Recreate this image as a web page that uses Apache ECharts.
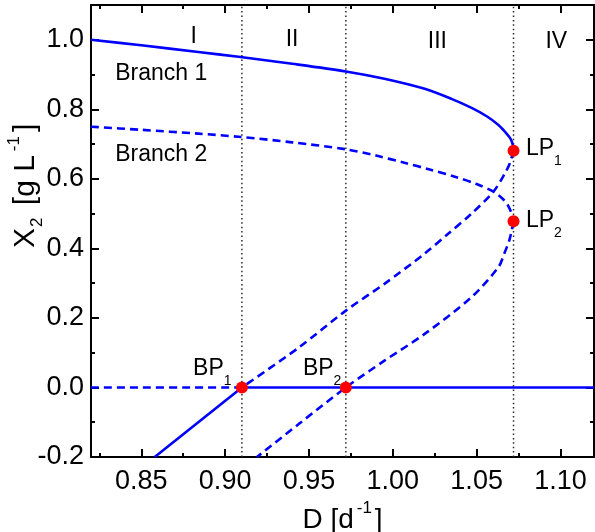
<!DOCTYPE html>
<html>
<head>
<meta charset="utf-8">
<script src="https://cdn.jsdelivr.net/npm/echarts@6/dist/echarts.min.js"></script>
<style>
  html, body { margin: 0; padding: 0; background: #fff; }
  #chart { width: 595px; height: 532px; }
</style>
</head>
<body>
<div id="chart"></div>
<script>
// Axis ranges and tick values
const dMin = 0.82, dMax = 1.12;
const dTicks = [0.85, 0.90, 0.95, 1.00, 1.05, 1.10];
const dMinorTicks = [0.825, 0.875, 0.925, 0.975, 1.025, 1.075];
const x2Min = -0.2, x2Max = 1.1;
const x2Ticks = [-0.2, 0.0, 0.2, 0.4, 0.6, 0.8, 1.0];
const x2MinorTicks = [-0.1, 0.1, 0.3, 0.5, 0.7, 0.9];

// Steady-state branches (D [1/d], X2 [g/L])
const branch1Stable = [
  [0.82, 1.000], [0.85, 0.984], [0.884, 0.965], [0.908, 0.951], [0.94, 0.931],
  [0.972, 0.909], [0.995, 0.888], [1.019, 0.859], [1.035, 0.830], [1.047, 0.804],
  [1.056, 0.780], [1.063, 0.755], [1.067, 0.735], [1.070, 0.717], [1.0715, 0.700],
  [1.072, 0.681]
];
const branch1Unstable = [
  [1.072, 0.681], [1.0698, 0.645], [1.0669, 0.616], [1.060, 0.563], [1.047, 0.500],
  [1.033, 0.442], [1.019, 0.385], [0.995, 0.298], [0.972, 0.221], [0.944, 0.115],
  [0.910, 0.000]
];
const branch1Negative = [[0.910, 0.000], [0.858, -0.200]];
const branch2Upper = [
  [0.82, 0.750], [0.85, 0.741], [0.884, 0.730], [0.908, 0.721], [0.94, 0.705],
  [0.972, 0.685], [0.99, 0.667], [1.007, 0.646], [1.022, 0.627], [1.037, 0.606],
  [1.050, 0.585], [1.060, 0.563], [1.065, 0.545], [1.068, 0.529], [1.0705, 0.505],
  [1.072, 0.478]
];
const branch2Lower = [
  [1.072, 0.478], [1.0708, 0.450], [1.0695, 0.4235], [1.0665, 0.385], [1.063, 0.346],
  [1.047, 0.260], [1.019, 0.154], [0.995, 0.077], [0.972, 0.000], [0.9437, -0.106],
  [0.919, -0.200]
];
const washoutUnstable = [[0.82, 0.0], [0.91, 0.0]];
const washoutStable = [[0.91, 0.0], [1.12, 0.0]];

// Operating regions and special points
const regionBounds = [0.91, 0.972, 1.072];
const regionNames = ['I', 'II', 'III', 'IV'];
const limitPoints = [[1.072, 0.681], [1.072, 0.478]];
const branchPoints = [[0.91, 0.0], [0.972, 0.0]];

const FONT = '"Liberation Sans", Arial, Helvetica, sans-serif';
const BLUE = '#0000ff';
const RED = '#ff0000';

const chart = echarts.init(document.getElementById('chart'), null, { renderer: 'canvas' });

function axis(extra) {
  return Object.assign({
    type: 'value',
    scale: true,
    splitLine: { show: false },
    axisLine: { show: true, onZero: false, lineStyle: { color: '#000', width: 2 } },
    axisLabel: { show: false },
    axisTick: { show: true, inside: true, length: 8, lineStyle: { color: '#000', width: 2 } }
  }, extra);
}
function minorAxis(extra, values) {
  return axis(Object.assign({
    axisLine: { show: false, onZero: false },
    axisTick: { show: true, inside: true, length: 4, customValues: values,
                lineStyle: { color: '#000', width: 2 } }
  }, extra));
}

const richText = {
  m: { fontFamily: FONT, fontSize: 23, color: '#000', lineHeight: 40, verticalAlign: 'middle' },
  s: { fontFamily: FONT, fontSize: 14, color: '#000', lineHeight: 12, verticalAlign: 'bottom' }
};

function curve(data, dashed) {
  return {
    type: 'line', data: data, showSymbol: false, smooth: 0.3, z: 3,
    silent: true, clip: true,
    lineStyle: { color: BLUE, width: 2.6, type: dashed ? [8, 5] : 'solid' }
  };
}
function note(coord, text, centered) {
  return {
    type: 'scatter', data: [coord], symbolSize: 1, silent: true, z: 6,
    itemStyle: { color: 'transparent', opacity: 1 },
    label: {
      show: true, formatter: text, opacity: 1,
      position: centered ? 'inside' : 'right', distance: 0,
      fontFamily: FONT, fontSize: 23, color: '#000', rich: richText
    }
  };
}

const regionLabelCoords = [[0.8812, 1.0095], [0.9399, 1.0008], [1.0266, 0.9937], [1.0975, 0.9937]];

const series = [];
regionBounds.forEach(b => {
  series.push({
    type: 'line', data: [[b, x2Min], [b, x2Max]], showSymbol: false, silent: true, z: 1,
    lineStyle: { color: '#2a2a2a', width: 1.5, type: [1.5, 2.9] }
  });
});
series.push(curve(washoutUnstable, true));
series.push(curve(washoutStable, false));
series.push(curve(branch1Stable, false));
series.push(curve(branch1Unstable, true));
series.push(curve(branch1Negative, false));
series.push(curve(branch2Upper, true));
series.push(curve(branch2Lower, true));
series.push({
  type: 'scatter', data: limitPoints.concat(branchPoints), symbol: 'circle', symbolSize: 12,
  itemStyle: { color: RED, opacity: 1 }, z: 8, silent: true
});
regionNames.forEach((n, i) => series.push(note(regionLabelCoords[i], '{m|' + n + '}', true)));
series.push(note([0.8341, 0.9027], '{m|Branch 1}', false));
series.push(note([0.8341, 0.669], '{m|Branch 2}', false));
series.push(note([1.0791, 0.687], '{m|LP}{s|1}', false));
series.push(note([1.0791, 0.481], '{m|LP}{s|2}', false));
series.push(note([0.8806, 0.0554], '{m|BP}{s|1}', false));
series.push(note([0.9461, 0.0554], '{m|BP}{s|2}', false));

const option = {
  animation: false,
  backgroundColor: '#fff',
  grid: { left: 91, top: 5, width: 503, height: 452, containLabel: false, outerBoundsMode: 'none' },
  xAxis: [
    axis({
      position: 'bottom', min: dMin, max: dMax,
      axisTick: { show: true, inside: true, length: 8, customValues: dTicks,
                  lineStyle: { color: '#000', width: 2 } },
      axisLabel: { show: true, customValues: dTicks, formatter: v => v.toFixed(2),
                   fontFamily: FONT, fontSize: 27, color: '#000', margin: 11 },
      name: '{m|D [d}{p|-1}{m|]}', nameLocation: 'middle', nameGap: 33,
      nameTextStyle: {
        rich: {
          m: { fontFamily: FONT, fontSize: 28, color: '#000', lineHeight: 40, verticalAlign: 'middle',
               padding: [0, 1, 0, 1] },
          p: { fontFamily: FONT, fontSize: 17, color: '#000', lineHeight: 26, verticalAlign: 'top',
               padding: [0, 2, 0, 2] }
        }
      }
    }),
    minorAxis({ position: 'bottom', min: dMin, max: dMax }, dMinorTicks),
    axis({ position: 'top', min: dMin, max: dMax,
      axisTick: { show: true, inside: true, length: 8, customValues: dTicks,
                  lineStyle: { color: '#000', width: 2 } } }),
    minorAxis({ position: 'top', min: dMin, max: dMax }, dMinorTicks)
  ],
  yAxis: [
    axis({
      position: 'left', min: x2Min, max: x2Max,
      axisTick: { show: true, inside: true, length: 8, customValues: x2Ticks,
                  lineStyle: { color: '#000', width: 2 } },
      axisLabel: { show: true, customValues: x2Ticks, formatter: v => v.toFixed(1),
                   fontFamily: FONT, fontSize: 27, color: '#000', margin: 7 }
    }),
    minorAxis({ position: 'left', min: x2Min, max: x2Max }, x2MinorTicks),
    axis({ position: 'right', min: x2Min, max: x2Max,
      axisTick: { show: true, inside: true, length: 8, customValues: x2Ticks,
                  lineStyle: { color: '#000', width: 2 } } }),
    minorAxis({ position: 'right', min: x2Min, max: x2Max }, x2MinorTicks)
  ],
  graphic: [{
    type: 'text', x: 26, y: 249, rotation: Math.PI / 2,
    style: {
      text: '{m|X}{s|2}{m| [g L}{p|-1}{m|]}',
      align: 'left', verticalAlign: 'middle',
      rich: {
        m: { fontFamily: FONT, fontSize: 30, fill: '#000', lineHeight: 40, verticalAlign: 'middle',
             padding: [0, 1, 0, 1] },
        s: { fontFamily: FONT, fontSize: 17, fill: '#000', lineHeight: 12, verticalAlign: 'bottom',
             padding: [0, 3, 0, 0] },
        p: { fontFamily: FONT, fontSize: 17, fill: '#000', lineHeight: 26, verticalAlign: 'top',
             padding: [0, 3, 0, 3] }
      }
    }
  }],
  series: series
};

chart.setOption(option);
</script>
</body>
</html>
